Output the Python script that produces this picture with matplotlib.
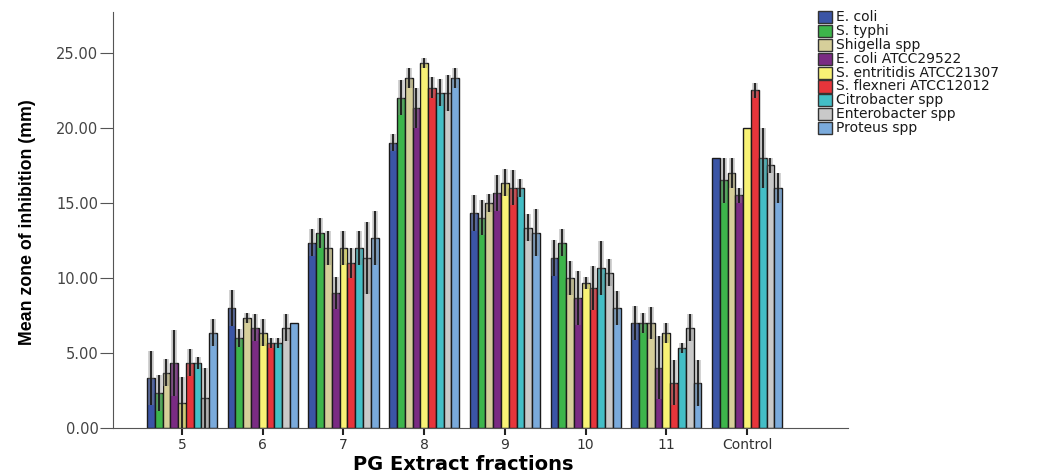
"""Mean zone of inhibition of PG extract fractions against bacterial strains."""

import matplotlib

matplotlib.use("Agg")
import matplotlib.pyplot as plt  # noqa: E402
import numpy as np  # noqa: E402
from matplotlib.patches import Rectangle  # noqa: E402

fractions = ["5", "6", "7", "8", "9", "10", "11", "Control"]
species = ["E. coli", "S. typhi", "Shigella spp", "E. coli ATCC29522",
           "S. entritidis ATCC21307", "S. flexneri ATCC12012",
           "Citrobacter spp", "Enterobacter spp", "Proteus spp"]
colors = ["#3b55a6", "#3db54b", "#d6cf9a", "#7a2b83", "#f8f275",
          "#e6353b", "#43bec6", "#c9c9c9", "#7aaadb"]

# mean zone (mm) per species, one value per fraction
ecoli = [3.33, 8.00, 12.33, 19.00, 14.33, 11.33, 7.00, 18.00]
typhi = [2.33, 6.00, 13.00, 22.00, 14.00, 12.33, 7.00, 16.50]
shigella = [3.67, 7.33, 12.00, 23.33, 15.00, 10.00, 7.00, 17.00]
ecoli_atcc = [4.33, 6.67, 9.00, 21.33, 15.67, 8.67, 4.00, 15.50]
entritidis = [1.67, 6.33, 12.00, 24.33, 16.33, 9.67, 6.33, 20.00]
flexneri = [4.33, 5.67, 11.00, 22.67, 16.00, 9.33, 3.00, 22.50]
citrobacter = [4.33, 5.67, 12.00, 22.33, 16.00, 10.67, 5.33, 18.00]
enterobacter = [2.00, 6.67, 11.33, 22.33, 13.33, 10.33, 6.67, 17.50]
proteus = [6.33, 7.00, 12.67, 23.33, 13.00, 8.00, 3.00, 16.00]

# half-width of the error bars (mm)
ecoli_err = [1.80, 1.20, 0.90, 0.55, 1.20, 1.20, 1.15, 0.00]
typhi_err = [1.20, 0.60, 1.00, 1.15, 1.15, 0.90, 0.67, 1.50]
shigella_err = [0.90, 0.35, 1.15, 0.67, 0.60, 1.15, 1.05, 1.00]
ecoli_atcc_err = [2.20, 0.90, 1.05, 1.33, 1.20, 1.80, 2.10, 0.50]
entritidis_err = [1.70, 0.90, 1.15, 0.33, 0.90, 0.40, 0.67, 0.00]
flexneri_err = [0.90, 0.33, 1.00, 0.67, 1.15, 1.45, 1.50, 0.50]
citrobacter_err = [0.40, 0.33, 1.15, 0.90, 0.60, 1.80, 0.33, 2.00]
enterobacter_err = [2.00, 0.90, 2.40, 1.20, 0.90, 0.90, 0.90, 0.50]
proteus_err = [0.90, 0.00, 1.80, 0.67, 1.55, 1.15, 1.55, 1.00]

means = [ecoli, typhi, shigella, ecoli_atcc, entritidis, flexneri,
         citrobacter, enterobacter, proteus]
errs = [ecoli_err, typhi_err, shigella_err, ecoli_atcc_err, entritidis_err,
        flexneri_err, citrobacter_err, enterobacter_err, proteus_err]

W, H = 1047, 474
fig = plt.figure(figsize=(W / 100, H / 100), dpi=100)
ax = fig.add_axes([113 / W, 1 - 428 / H, 735 / W, 416 / H])

x = np.arange(len(fractions))
w = 0.0965
n = len(species)
for i, (m, e, c) in enumerate(zip(means, errs, colors)):
    pos = x + (i - (n - 1) / 2) * w
    ax.bar(pos, m, width=w, color=c, edgecolor="#1a1a1a", linewidth=1.0,
           zorder=2)
    m = np.array(m)
    e = np.array(e)
    ax.vlines(pos, m - e, m + e, color="#808080", lw=4, alpha=0.45, zorder=3)
    ax.vlines(pos, m - e, m + e, color="#1a1a1a", lw=1.3, zorder=4)

ax.set_xlim(-0.855, 8.25)
ax.set_ylim(0, 27.7)
ax.set_yticks(np.arange(0, 26, 5))
ax.set_yticklabels([f"{v:.2f}" for v in np.arange(0, 26, 5)])
ax.set_xticks(x)
ax.set_xticklabels(fractions)
for s in ("top", "right"):
    ax.spines[s].set_visible(False)
for s in ("left", "bottom"):
    ax.spines[s].set_color("#555555")
ax.tick_params(axis="y", length=9.5, color="#555555", labelsize=10.5,
               labelcolor="#444444", pad=1)
ax.tick_params(axis="x", length=5, width=1.5, color="#222222", labelsize=10,
               labelcolor="#333333", pad=2)
for t in ax.get_xticklabels() + ax.get_yticklabels():
    t.set_family("DejaVu Sans")

ax.set_ylabel("Mean zone of inhibition (mm)", fontsize=12.8, fontweight="bold",
              family=["Liberation Sans", "DejaVu Sans"])
ax.yaxis.set_label_coords(-77 / 735, (428 - 222) / 416)
ax.set_xlabel("PG Extract fractions", fontsize=14, fontweight="bold",
              family="DejaVu Sans")
ax.xaxis.set_label_coords((463 - 113) / 735, -(465 - 428) / 416)
ax.xaxis.label.set_va("center")

# legend drawn at the top right, outside the axes
for i, (name, c) in enumerate(zip(species, colors)):
    yc = 17 + i * 13.9
    fig.add_artist(Rectangle((818 / W, 1 - (yc + 6) / H), 14 / W, 12 / H,
                             facecolor=c, edgecolor="#333333", lw=1.0,
                             transform=fig.transFigure))
    fig.text(836 / W, 1 - yc / H, name, fontsize=10, family="DejaVu Sans",
             color="#1a1a1a", va="center", ha="left")

fig.savefig("out.png", dpi=100)
plt.close(fig)
